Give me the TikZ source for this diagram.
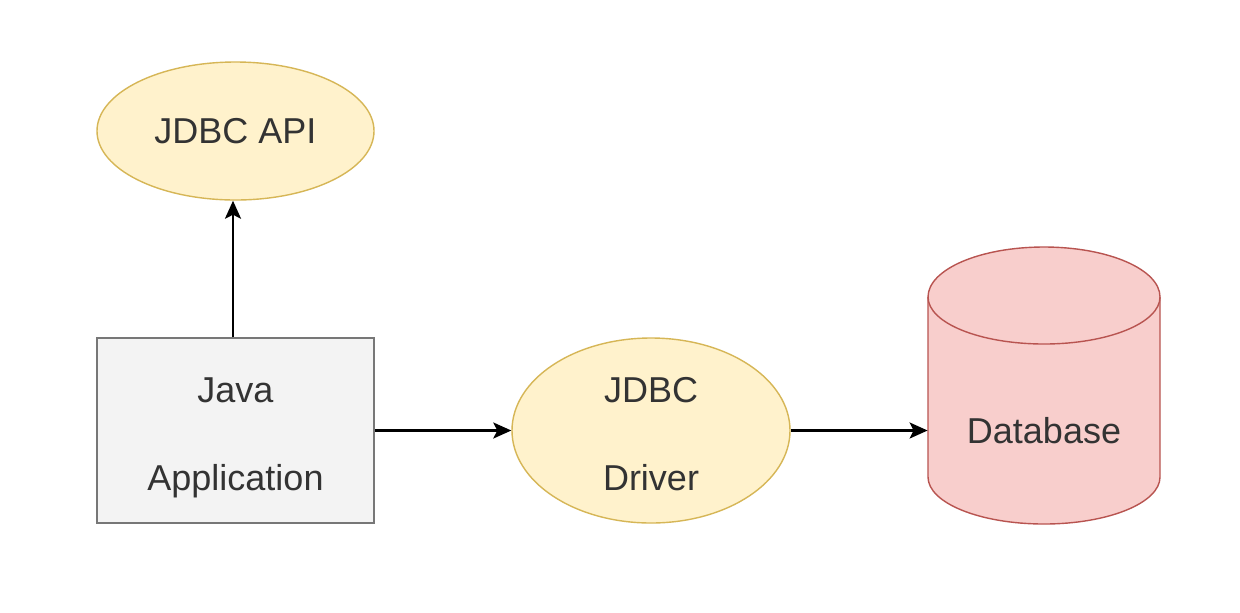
\documentclass[tikz,border=0pt]{standalone}
\usepackage{fontspec}
\setmainfont{Liberation Sans}
\usetikzlibrary{shapes.geometric,arrows.meta}
\definecolor{ylwfill}{HTML}{FFF2CC}
\definecolor{ylwdraw}{HTML}{D6B656}
\definecolor{grayfill}{HTML}{F3F3F3}
\definecolor{graydraw}{HTML}{777777}
\definecolor{redfill}{HTML}{F8CECC}
\definecolor{reddraw}{HTML}{B85450}
\definecolor{txt}{HTML}{333333}
\newcommand{\lowline}[1]{\raisebox{-7.75pt}[0pt][0pt]{#1}}
\begin{document}
\begin{tikzpicture}[x=0.5pt,y=-0.5pt,
  lbl/.style={text=txt,font=\fontsize{18}{44}\selectfont,align=center},
  yellipse/.style={ellipse,draw=ylwdraw,fill=ylwfill,line width=0.7pt,inner sep=0pt,lbl},
  appbox/.style={rectangle,draw=graydraw,fill=grayfill,line width=0.75pt,inner sep=0pt,lbl},
  conn/.style={-{Stealth[length=9pt,width=8pt,inset=2pt]},line width=1.2pt,black}]
\fill[white] (0,0) rectangle (1240,612);
\useasboundingbox (0,0) rectangle (1240,612);

\node[yellipse,minimum width=138.5pt,minimum height=69pt] (api) at (235.5,131) {JDBC API};
\node[appbox,minimum width=138.5pt,minimum height=92.5pt] (app) at (235.5,430.5)
  {\lowline{Java}\\\lowline{Application}};
\node[yellipse,minimum width=139pt,minimum height=92.5pt] (drv) at (651,430.5)
  {\lowline{JDBC}\\\lowline{Driver}};

% Database cylinder
\path[fill=redfill,draw=reddraw,line width=0.7pt]
  (928,297) -- (928,477) arc[start angle=180,end angle=0,x radius=116,y radius=47]
  -- (1160,297) arc[start angle=0,end angle=-180,x radius=116,y radius=50] -- cycle;
\draw[reddraw,line width=0.7pt] (928,297) arc[start angle=180,end angle=0,x radius=116,y radius=47];
\node[lbl,minimum width=116pt,minimum height=100pt,inner sep=0pt] (db) at (1044,430.5) {\raisebox{-0.5pt}{Database}};

\draw[conn] (app.north -| 233,0) -- (api.south -| 233,0);
\draw[conn] (app.east) -- (drv.west);
\draw[conn] (drv.east) -- (db.west);
\end{tikzpicture}
\end{document}
